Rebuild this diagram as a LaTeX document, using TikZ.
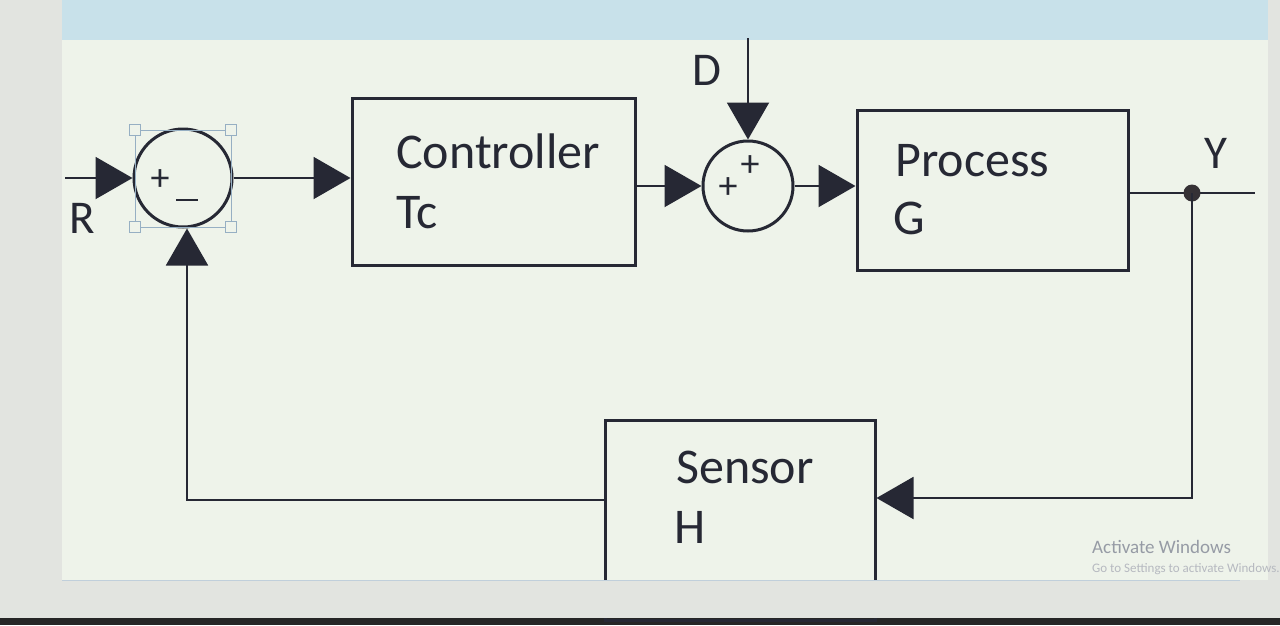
\documentclass[tikz,border=0pt]{standalone}
\usepackage{fontspec}
\setmainfont{Carlito}
\usetikzlibrary{arrows.meta}
\definecolor{ink}{RGB}{38,40,52}
\definecolor{panel}{RGB}{238,243,234}
\definecolor{outer}{RGB}{226,228,224}
\definecolor{topband}{RGB}{200,225,234}
\definecolor{handle}{RGB}{150,175,195}
\definecolor{wmark}{RGB}{150,155,165}
\tikzset{
  wire/.style={draw=ink, line width=2pt},
  sig/.style={wire, -{Triangle[length=37pt,width=42pt]}},
  blockbox/.style={draw=ink, line width=3pt, rectangle, inner sep=0pt},
  sumnode/.style={draw=ink, line width=3pt, circle, inner sep=0pt},
  lbl/.style={text=ink, font=\fontsize{50}{56}\selectfont, inner sep=0pt},
  siglbl/.style={text=ink, font=\fontsize{47}{52}\selectfont, inner sep=0pt},
  sgn/.style={text=ink, font=\fontsize{38}{42}\selectfont, inner sep=0pt},
  hnd/.style={draw=handle, line width=1.2pt, fill=panel, minimum size=11pt, inner sep=0pt, rectangle},
}
\begin{document}
\begin{tikzpicture}[x=1pt,y=-1pt]
\useasboundingbox (0,0) rectangle (1280,625);
% background
\fill[outer] (0,0) rectangle (1280,625);
\fill[panel] (62,0) rectangle (1268,580);
\fill[topband] (62,0) rectangle (1268,40);
\fill[black!85] (0,618) rectangle (1280,625);

% summing junctions
\node[sumnode, minimum size=98pt] (s1) at (183,178) {};
\node[sumnode, minimum size=90pt] (s2) at (748,186) {};
\node[sgn] (s1p) at (160,180) {+};
\node[inner sep=0pt, text=ink] (s1m) at (187,200) {\rule{22pt}{2.6pt}};
\node[sgn] (s2a) at (750,166) {+};
\node[sgn] (s2b) at (728,188) {+};

% selection handles on left junction
\draw[handle, line width=0.8pt] (135,130) rectangle (231,227);
\node[hnd] (h1) at (135,130) {};
\node[hnd] (h2) at (231,130) {};
\node[hnd] (h3) at (135,227) {};
\node[hnd] (h4) at (231,227) {};

% blocks
\node[blockbox, minimum width=283pt, minimum height=167pt] (ctrl) at (493.5,181.5) {};
\node[blockbox, minimum width=271pt, minimum height=160pt] (proc) at (992.5,190) {};
\node[blockbox, minimum width=270pt, minimum height=200pt] (sens) at (740,520) {};

\node[lbl, anchor=base west] (tctrl) at (396,168) {Controller};
\node[lbl, anchor=base west] (ttc) at (396,228) {Tc};
\node[lbl, anchor=base west] (tproc) at (895,176) {Process};
\node[lbl, anchor=base west] (tg) at (893,234) {G};
\node[lbl, anchor=base west] (tsens) at (676,483) {Sensor};
\node[lbl, anchor=base west] (th) at (674,543) {H};

% signal labels
\node[siglbl] (tR) at (82,218) {R};
\node[siglbl] (tD) at (707,70) {D};
\node[siglbl] (tY) at (1216,153) {Y};

% coordinates
\coordinate (rin) at (65,178);
\coordinate (dtop) at (748,38);
\coordinate (yout) at (1255,193);
\coordinate (tap) at (1192,193);
\coordinate (fbr) at (1183,498);
\coordinate (fbl) at (187,500);

% connectors
\draw[sig] (rin) -- (s1.west);
\draw[sig] (s1.east) -- (s1.east -| ctrl.west);
\draw[sig] (ctrl.east |- s2.west) -- (s2.west);
\draw[sig] (dtop) -- (s2.north);
\draw[sig] (s2.east) -- (s2.east -| proc.west);
\draw[wire] (proc.east |- tap) -- (yout);
\fill[ink!90!brown] (tap) circle (8.5pt);
\draw[sig] (tap) -- (tap |- fbr) -- (fbr -| sens.east);
\draw[sig] (sens.west |- fbl) -- (fbl) -- (fbl |- s1.south);

% screen bezel covering the bottom of the sensor block
\fill[outer] (62,581) rectangle (1280,618);
\draw[handle!60, line width=1pt] (62,580) -- (1240,580);

% watermark
\node[text=wmark, font=\fontsize{19}{22}\selectfont, anchor=base west, inner sep=0pt] (wm1) at (1092,553) {Activate Windows};
\node[text=wmark!70, font=\fontsize{13}{15}\selectfont, anchor=base west, inner sep=0pt] (wm2) at (1092,572) {Go to Settings to activate Windows.};
\end{tikzpicture}
\end{document}
